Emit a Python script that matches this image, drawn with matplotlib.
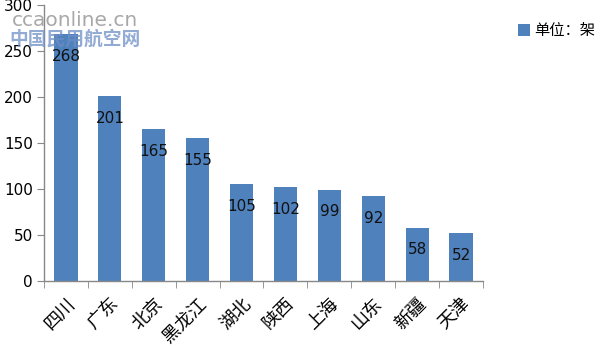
import matplotlib
matplotlib.use("Agg")
import matplotlib.pyplot as plt
import numpy as np

plt.rcParams['font.family'] = ['Noto Sans CJK SC', 'DejaVu Sans']

categories = ['四川', '广东', '北京', '黑龙江', '湖北', '陕西', '上海', '山东', '新疆', '天津']
values = [268, 201, 165, 155, 105, 102, 99, 92, 58, 52]
yticks = [0, 50, 100, 150, 200, 250, 300]
legend_label = '单位：架'
bar_color = '#4F81BD'

fig = plt.figure(figsize=(6, 3.46), dpi=100)
ax = fig.add_axes([0.0733, 0.188, 0.7317, 0.7975])
x = np.arange(len(categories))
bars = ax.bar(x, values, width=0.53, color=bar_color, label=legend_label, zorder=2)

for xi, v in zip(x, values):
    ax.text(xi, v - 24, str(v), ha='center', va='center', fontsize=11,
            color='#111111', family=['DejaVu Sans'])

ax.set_xlim(-0.5, len(categories) - 0.5)
ax.set_ylim(0, 300)
ax.set_yticks(yticks)
ax.set_yticklabels([str(t) for t in yticks], fontsize=11, family=['DejaVu Sans'])
ax.set_xticks(x)
ax.set_xticklabels(categories, rotation=45, ha='right', rotation_mode='anchor', fontsize=13)
ax.set_xticks(np.arange(-0.5, len(categories), 1), minor=True)
ax.tick_params(axis='x', which='major', length=0, pad=10)
ax.tick_params(axis='x', which='minor', length=5, color='#888888', direction='out')
ax.tick_params(axis='y', length=5, color='#888888', direction='out', pad=3)

for s in ['top', 'right']:
    ax.spines[s].set_visible(False)
for s in ['left', 'bottom']:
    ax.spines[s].set_color('#888888')
    ax.spines[s].set_linewidth(1)

leg = fig.legend(handles=[bars], labels=[legend_label], loc='upper left',
                 bbox_to_anchor=(0.84, 0.975), frameon=False, fontsize=11,
                 handlelength=0.8, handleheight=0.8, handletextpad=0.3)

# watermark
fig.text(0.02, 0.94, 'ccaonline.cn', fontsize=14.5, color='#999999', alpha=0.85,
         family=['DejaVu Sans'], va='center')
fig.text(0.015, 0.888, '中国民用航空网', fontsize=13.5, color='#6E8FC6', alpha=0.75,
         va='center', fontweight='bold')

fig.savefig('out.png', dpi=100)
